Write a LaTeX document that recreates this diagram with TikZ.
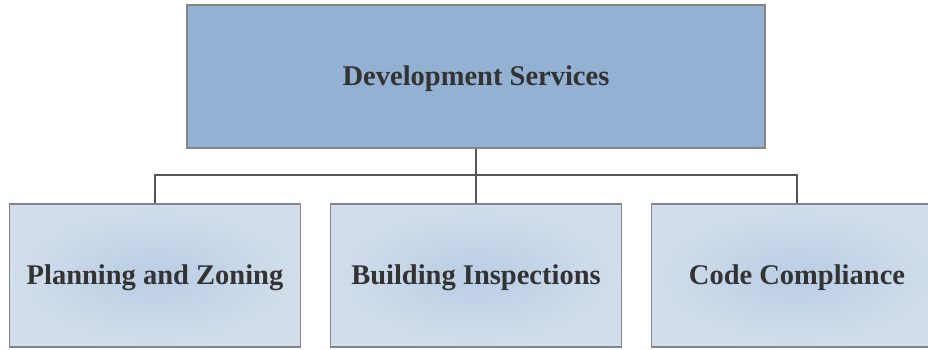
\documentclass[tikz,border=0pt]{standalone}
\usepackage{fontspec}
\setmainfont{Liberation Serif}
\usetikzlibrary{positioning}
\definecolor{topfill}{HTML}{93B1D2}
\definecolor{subin}{HTML}{B9CDE5}
\definecolor{subout}{HTML}{D2DEEB}
\definecolor{boxline}{HTML}{858585}
\definecolor{wire}{HTML}{555555}
\definecolor{txt}{HTML}{333333}

\begin{document}
\begin{tikzpicture}[x=1pt,y=1pt,node distance=199pt,on grid,
  box/.style={draw=boxline,line width=1.8pt,font=\fontsize{28.5}{30}\selectfont\bfseries,text=txt,inner sep=0pt,text height=24pt,text depth=6pt},
  topbox/.style={box,fill=topfill,minimum width=578pt,minimum height=143pt},
  subbox/.style={box,inner color=subin,outer color=subout,minimum width=291pt,minimum height=143pt}]
\useasboundingbox (0,0) rectangle (928,349);
\node[topbox] (DS) at (476,272.5) {Development Services};
\node[subbox] (BI) [below=of DS] {Building Inspections};
\node[subbox] (PZ) [left=321pt of BI] {Planning and Zoning};
\node[subbox] (CC) [right=321pt of BI] {Code Compliance};

\draw[wire,line width=1.6pt] (DS.south) -- (BI.north);
\draw[wire,line width=1.6pt] (PZ.north) -- ++(0,28) -| (CC.north);
\end{tikzpicture}
\end{document}
